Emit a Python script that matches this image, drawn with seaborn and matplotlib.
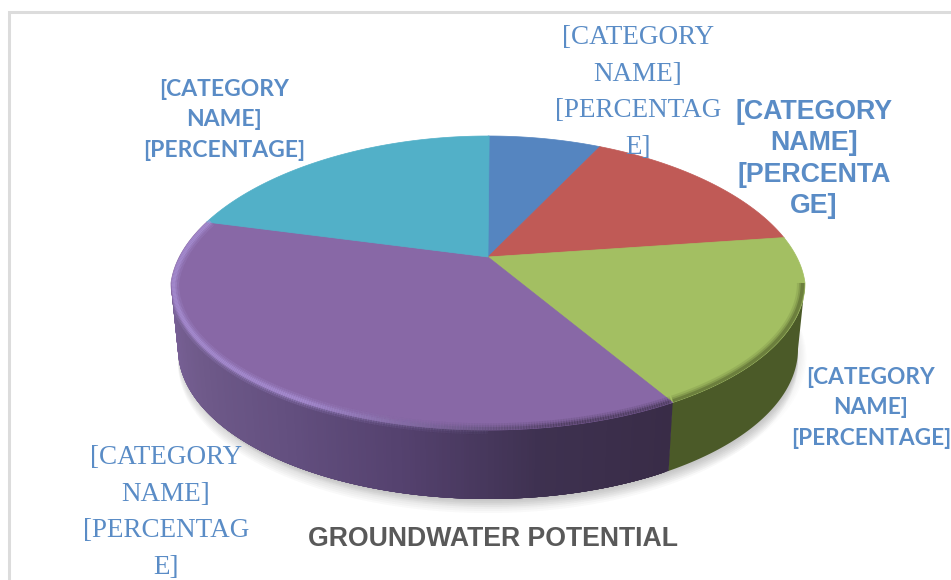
import numpy as np
import matplotlib
matplotlib.use("Agg")
import matplotlib.pyplot as plt
from matplotlib.patches import Polygon
import seaborn as sns

# Shares, clockwise from 12 o'clock
categories = ["blue", "red", "green", "purple", "teal"]
shares = [6.1, 13.9, 20.1, 41.7, 18.2]
top_colours = ["#5585c0", "#c05a56", "#a3bf62", "#8868a6", "#52b0c8"]

label_texts = ["[CATEGORY\nNAME]\n[PERCENTAG\nE]",
               "[CATEGORY\nNAME]\n[PERCENTA\nGE]",
               "[CATEGORY\nNAME]\n[PERCENTAGE]",
               "[CATEGORY\nNAME]\n[PERCENTAG\nE]",
               "[CATEGORY\nNAME]\n[PERCENTAGE]"]
title_text = "GROUNDWATER POTENTIAL"

sns.set_theme(style="white")

# Pie geometry in image pixels
cx, cy, rx, ry = 488, 283, 317, 147
apex = (488, 257)


def rim(t, r=1.0):
    # the far half of the disc is a bit narrower, as in a perspective view
    t = np.radians(t)
    squeeze = 1 - 0.06 * np.clip(np.cos(t), 0, None)
    return cx + r * rx * np.sin(t) * squeeze, cy - r * ry * np.cos(t)


def base(t):
    t = np.radians(t)
    return cx + 310 * np.sin(t), 349 - 150 * np.cos(t)


fig = plt.figure(figsize=(9.51, 5.8), dpi=100)
ax = fig.add_axes([0, 0, 1, 1])
ax.set_xlim(0, 951)
ax.set_ylim(580, 0)
ax.axis("off")

# Chart frame, open on the right and bottom
ax.plot([9, 9, 951], [580, 12, 12], color="#dcdcdc", lw=2.2, solid_joinstyle="miter")

edges = np.cumsum([0] + shares) / sum(shares) * 360

# Soft shadow below the body
full = np.linspace(0, 360, 361)
for off in np.arange(2, 15, 2):
    xs, ys = base(full)
    ax.fill(xs, ys + off, color="#6b6b6b", alpha=0.04, lw=0)
    ax.fill(xs + off * 0.6, ys + off * 0.6, color="#6b6b6b", alpha=0.02, lw=0)

# Side wall, drawn in small overlapping steps so the shading can run along it
green_wall = "#4b5a28"
purple_wall = sns.blend_palette(["#392c47", "#3e3150", "#54416e", "#645080", "#6f5a8a", "#7a6299"], 200)
t = np.arange(90, edges[3] + 0.5, 0.5)
x0, y0 = rim(t)
x1, y1 = base(t)
ax.fill(np.r_[x0, x1[::-1]], np.r_[y0, y1[::-1]], color=green_wall, lw=0)
for t0 in np.arange(edges[3], 270, 0.5):
    k = int((t0 - edges[3]) / (270 - edges[3]) * 199)
    t = np.array([t0, t0 + 1, t0 + 2, min(t0 + 3, 270)])
    x0, y0 = rim(t)
    x1, y1 = base(t)
    ax.fill(np.r_[x0, x1[::-1]], np.r_[y0, y1[::-1]], color=purple_wall[k], lw=0)

# Top faces
for i, c in enumerate(top_colours):
    t = np.arange(edges[i], edges[i + 1] + 0.25, 0.25)
    xs, ys = rim(t)
    ax.fill(np.r_[apex[0], xs], np.r_[apex[1], ys], color=c, lw=0.5, ec=c)

# Bevel along the front rim: pale on the left, dark on the right, kept inside the body
xs, ys = rim(full)
bx, by = base(full)
outline = Polygon(np.c_[np.r_[xs[:181], bx[180:270], xs[270:]],
                        np.r_[ys[:181], by[180:270], ys[270:]]],
                  transform=ax.transData)
for w, a in [(8, 0.14), (5, 0.24), (2.5, 0.42)]:
    for t0 in np.arange(edges[3], edges[4], 0.5):
        sx, sy = rim(np.array([t0, t0 + 0.7]), 0.992)
        fade = np.clip((t0 - 165) / 50, 0, 1)
        ax.plot(sx, sy, color="#ab93d8", alpha=a * fade, lw=w, solid_capstyle="butt", clip_path=outline)
        if t0 < 215:
            ax.plot(sx, sy, color="#3a2e48", alpha=a * (1 - fade) * 0.7, lw=w, solid_capstyle="butt", clip_path=outline)
    sx, sy = rim(np.arange(90, edges[3], 0.5), 0.992)
    ax.plot(sx, sy, color=green_wall, alpha=a, lw=w, solid_capstyle="butt", clip_path=outline)

# Data labels
blue = "#5a8cc6"
ax.text(638, 92.5, label_texts[0], color=blue, family="Liberation Serif", fontsize=19.5,
        ha="center", va="center", linespacing=1.62)
ax.text(814, 159, label_texts[1], color=blue, family="Liberation Sans", fontweight="bold", fontsize=19.3,
        ha="center", va="center", linespacing=1.28)
ax.text(871, 408, label_texts[2], color=blue, family="Lato", fontweight="bold", fontsize=16.3,
        ha="center", va="center", linespacing=1.56)
ax.text(166, 512.5, label_texts[3], color=blue, family="Liberation Serif", fontsize=19.5,
        ha="center", va="center", linespacing=1.62)
ax.text(224, 120, label_texts[4], color=blue, family="Lato", fontweight="bold", fontsize=16.5,
        ha="center", va="center", linespacing=1.56)

ax.text(493, 539, title_text, color="#595959", family="Liberation Sans", fontweight="bold", fontsize=19.2,
        ha="center", va="center")

fig.savefig("out.png", dpi=100)
